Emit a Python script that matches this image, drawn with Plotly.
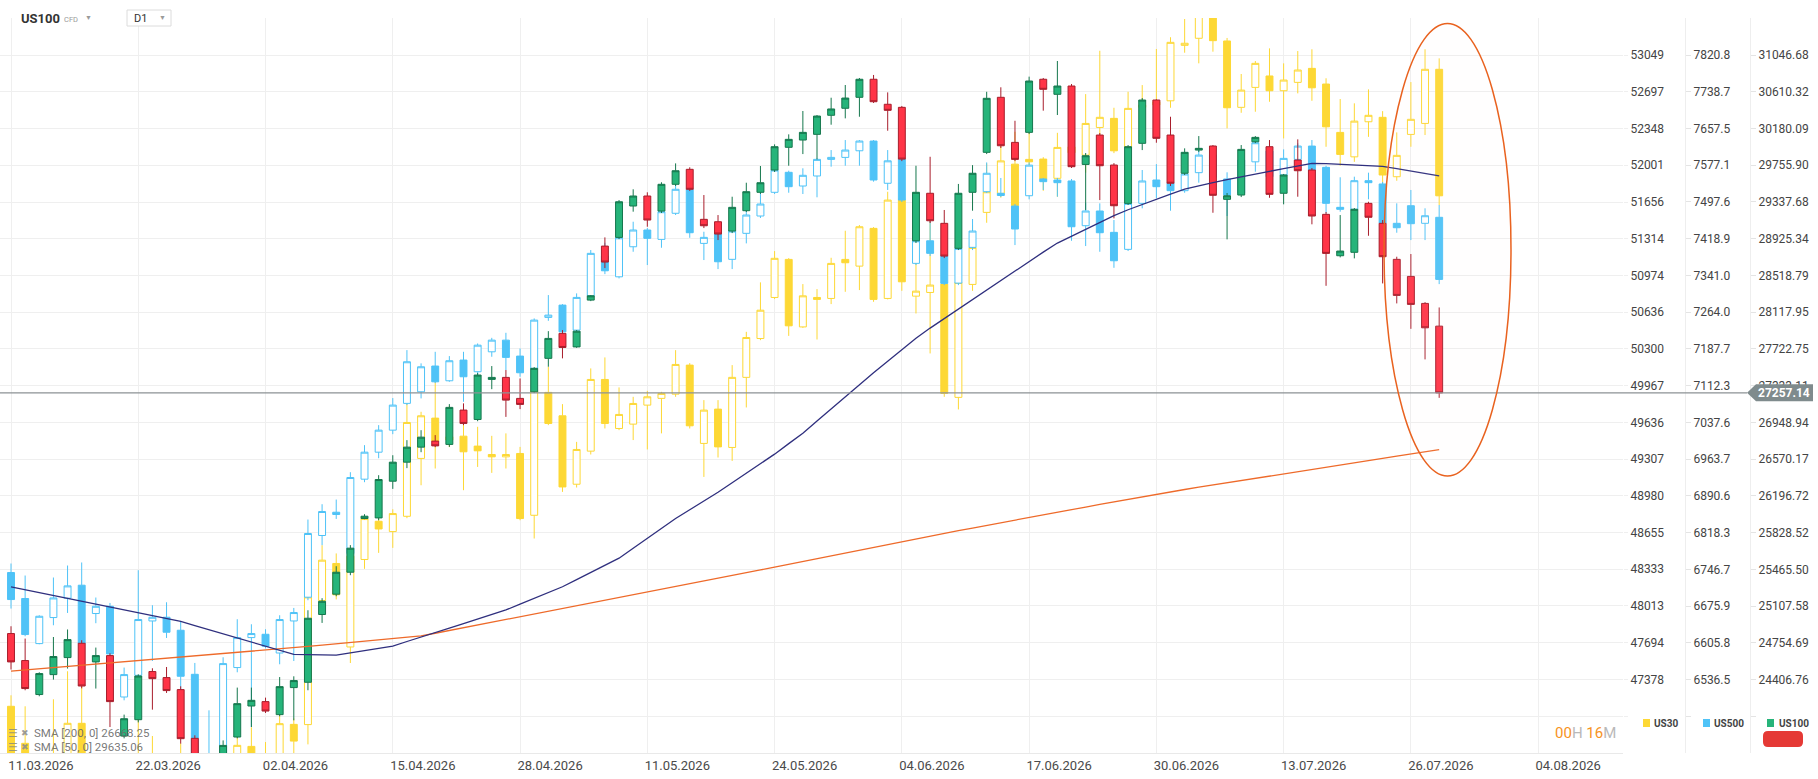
import math
import plotly.graph_objects as go

# ---------------- data ----------------
date_labels = ["11.03.2026", "22.03.2026", "02.04.2026", "15.04.2026", "28.04.2026",
               "11.05.2026", "24.05.2026", "04.06.2026", "17.06.2026", "30.06.2026",
               "13.07.2026", "26.07.2026", "04.08.2026"]
label_every = 9  # candles between date labels

us30_ticks = [53049, 52697, 52348, 52001, 51656, 51314, 50974, 50636, 50300, 49967,
              49636, 49307, 48980, 48655, 48333, 48013, 47694, 47378]
us500_ticks = [7820.8, 7738.7, 7657.5, 7577.1, 7497.6, 7418.9, 7341.0, 7264.0, 7187.7, 7112.3,
               7037.6, 6963.7, 6890.6, 6818.3, 6746.7, 6675.9, 6605.8, 6536.5]
us100_ticks = [31046.68, 30610.32, 30180.09, 29755.90, 29337.68, 28925.34, 28518.79, 28117.95,
               27722.75, 27333.11, 26948.94, 26570.17, 26196.72, 25828.52, 25465.50, 25107.58,
               24754.69, 24406.76]

us100_open = [24843, 24586, 24266, 24453, 24614, 24750, 24573, 24633, 23881, 24032,
              24482, 24425, 24312, 23860, 23613, 23568, 23872, 24159, 24200, 24079,
              24331, 24381, 25026, 25223, 25437, 25969, 25975, 26345, 26539, 26693,
              26755, 26721, 27077, 26979, 27399, 27420, 27199, 27268, 27622, 27889,
              27744, 28249, 28843, 28940, 29292, 29405, 29235, 29538, 29709, 29142,
              29115, 29011, 29239, 29447, 29701, 29962, 30046, 30112, 30334, 30416,
              30545, 30758, 30463, 30427, 28902, 29436, 29097, 28818, 29447, 29904,
              30545, 30019, 30135, 30758, 30580, 30678, 29765, 30104, 29758, 29322,
              30008, 30513, 30104, 29664, 29930, 29977, 29367, 29416, 30026, 29969,
              29436, 29815, 29701, 29198, 28736, 28774, 29322, 29097, 28696, 28508,
              28213, 27967]
us100_high = [24913, 24795, 24475, 24810, 24882, 24779, 24709, 24655, 24079, 24456,
              24513, 24525, 24343, 23888, 23704, 23841, 24331, 24331, 24237, 24430,
              24437, 25067, 25184, 25496, 25704, 26012, 26406, 26610, 26765, 26868,
              26817, 27139, 27147, 27466, 27540, 27498, 27409, 27529, 27913, 27924,
              27924, 28304, 28940, 29359, 29481, 29447, 29561, 29777, 29732, 29416,
              29190, 29397, 29556, 29747, 29996, 30112, 30384, 30337, 30540, 30690,
              30773, 30809, 30603, 30443, 29750, 29853, 29247, 29542, 29757, 30610,
              30663, 30270, 30789, 30773, 30975, 30702, 29896, 30127, 29780, 29988,
              30536, 30521, 30317, 29950, 30092, 29988, 29439, 29988, 30092, 30046,
              29656, 30054, 29724, 29224, 29190, 29269, 29340, 29134, 28725, 28755,
              28227, 28169]
us100_low = [24501, 24306, 24250, 24406, 24510, 24324, 24322, 23964, 23860, 24007,
             24125, 24281, 23811, 23523, 23386, 23495, 23860, 23964, 24094, 24063,
             24026, 24306, 24945, 25203, 25408, 25962, 25952, 26267, 26478, 26641,
             26693, 26696, 26920, 26961, 27296, 27006, 27087, 27255, 27533, 27622,
             27734, 28238, 28600, 28921, 29228, 29059, 29213, 29519, 29462, 29044,
             28910, 28988, 29224, 29428, 29678, 29750, 29884, 29823, 30224, 30298,
             30317, 30478, 30154, 29803, 28877, 29101, 28710, 28799, 29239, 29884,
             29954, 29803, 30115, 30388, 30337, 29724, 29247, 29359, 29153, 29303,
             29930, 30015, 29519, 29644, 29907, 29216, 28918, 29393, 30011, 29385,
             29311, 29397, 29086, 28405, 28718, 28707, 28958, 28431, 28213, 27938,
             27611, 27205]
us100_close = [24573, 24322, 24463, 24624, 24785, 24346, 24633, 24200, 24041, 24440,
               24415, 24303, 23857, 23613, 23568, 23795, 24181, 24212, 24112, 24340,
               24397, 24990, 25154, 25437, 25674, 25992, 26362, 26539, 26693, 26796,
               26706, 27105, 26938, 27445, 27420, 27181, 27136, 27516, 27835, 27738,
               27913, 28296, 28666, 29340, 29405, 29134, 29538, 29693, 29481, 29070,
               28977, 29277, 29454, 29556, 29969, 30054, 30135, 30325, 30408, 30536,
               30758, 30493, 30392, 29826, 29447, 29126, 28732, 29436, 29664, 30533,
               29980, 29823, 30737, 30639, 30678, 29739, 29865, 29750, 29295, 29969,
               30513, 30066, 29550, 29904, 29950, 29413, 29408, 29938, 30077, 29424,
               29644, 29693, 29179, 28762, 28788, 29255, 29165, 28725, 28300, 28202,
               27949, 27257.14]

us500_open = [6740.5, 6690.4, 6604.3, 6653.9, 6691.0, 6716.0, 6661.6, 6675.5, 6503.8, 6544.4,
              6647.4, 6654.5, 6629.7, 6546.3, 6390.3, 6377.5, 6559.0, 6615.7, 6622.0, 6586.5,
              6647.4, 6692.9, 6812.6, 6858.3, 6777.5, 6923.7, 6977.6, 7021.9, 7076.1, 7099.7,
              7152.4, 7122.2, 7164.7, 7140.7, 7181.7, 7205.8, 7172.9, 7147.6, 7253.0, 7278.7,
              7226.6, 7298.2, 7382.0, 7338.1, 7401.7, 7437.4, 7417.4, 7473.2, 7524.9, 7408.9,
              7428.8, 7375.0, 7430.3, 7467.4, 7518.4, 7561.7, 7532.0, 7553.7, 7589.8, 7594.2,
              7608.6, 7629.9, 7537.9, 7590.5, 7366.5, 7414.4, 7382.0, 7324.8, 7400.4, 7519.7,
              7516.2, 7488.8, 7511.0, 7547.2, 7545.0, 7542.9, 7446.6, 7478.1, 7432.4, 7396.2,
              7494.6, 7545.0, 7539.2, 7521.9, 7560.9, 7599.2, 7547.2, 7516.2, 7584.5, 7608.0,
              7555.9, 7589.8, 7618.9, 7572.5, 7486.0, 7481.7, 7543.5, 7536.4, 7451.7, 7489.5,
              7451.7, 7464.6]
us500_high = [6758.0, 6734.7, 6658.3, 6730.9, 6754.1, 6760.0, 6692.3, 6681.9, 6559.0, 6745.0,
              6677.5, 6683.2, 6647.4, 6567.7, 6478.9, 6578.4, 6650.7, 6641.1, 6631.6, 6658.3,
              6672.3, 6843.9, 6874.1, 6883.3, 6937.6, 6991.7, 7032.0, 7086.9, 7185.2, 7157.9,
              7181.7, 7172.9, 7181.7, 7198.9, 7210.6, 7221.0, 7188.5, 7250.9, 7299.7, 7280.8,
              7303.2, 7394.7, 7410.2, 7426.6, 7455.1, 7441.6, 7481.7, 7541.4, 7532.0, 7433.7,
              7438.9, 7456.6, 7487.3, 7523.4, 7571.0, 7565.2, 7570.4, 7592.0, 7610.2, 7632.1,
              7632.1, 7632.1, 7610.2, 7594.8, 7476.6, 7491.0, 7403.2, 7419.6, 7460.9, 7583.2,
              7549.4, 7493.1, 7583.2, 7549.4, 7549.4, 7547.2, 7495.9, 7494.6, 7458.8, 7503.9,
              7566.7, 7579.5, 7593.3, 7564.5, 7610.2, 7601.4, 7561.7, 7595.5, 7629.9, 7614.6,
              7611.7, 7624.9, 7632.1, 7576.0, 7550.9, 7552.2, 7560.9, 7540.7, 7494.6, 7523.4,
              7483.9, 7491.0]
us500_low = [6671.1, 6618.2, 6603.0, 6639.2, 6662.7, 6601.1, 6643.1, 6580.3, 6497.6, 6535.0,
             6571.4, 6615.0, 6516.3, 6359.2, 6340.9, 6368.3, 6550.1, 6447.9, 6595.4, 6565.2,
             6571.4, 6687.1, 6793.7, 6845.1, 6774.2, 6917.7, 6965.5, 7013.8, 7072.6, 7086.2,
             7117.5, 7120.1, 7079.3, 7133.9, 7171.5, 7144.2, 7130.4, 7133.9, 7245.9, 7198.9,
             7223.0, 7292.7, 7343.7, 7334.7, 7391.1, 7362.9, 7399.6, 7469.5, 7420.8, 7373.5,
             7354.4, 7354.4, 7408.9, 7463.1, 7514.7, 7517.5, 7514.7, 7507.6, 7573.9, 7576.0,
             7576.0, 7541.4, 7523.4, 7497.4, 7362.9, 7382.0, 7320.6, 7320.6, 7394.7, 7516.9,
             7508.2, 7405.3, 7503.2, 7523.4, 7508.9, 7414.4, 7403.2, 7391.1, 7357.1, 7392.6,
             7483.9, 7505.4, 7478.7, 7517.5, 7539.2, 7545.0, 7467.4, 7512.6, 7563.0, 7547.2,
             7532.7, 7573.9, 7548.7, 7473.2, 7476.6, 7473.2, 7503.2, 7448.1, 7431.6, 7415.9,
             7415.9, 7322.7]
us500_close = [6688.4, 6621.5, 6656.4, 6691.5, 6714.7, 6604.3, 6675.5, 6584.7, 6545.8, 6650.1,
               6654.5, 6625.9, 6542.6, 6377.5, 6359.2, 6566.5, 6615.7, 6623.4, 6599.2, 6650.1,
               6663.5, 6816.5, 6859.7, 6853.8, 6927.0, 6977.6, 7021.9, 7072.6, 7161.2, 7150.9,
               7120.1, 7163.3, 7130.4, 7195.4, 7205.8, 7170.2, 7138.6, 7247.4, 7257.8, 7223.0,
               7294.8, 7387.7, 7350.8, 7420.8, 7437.4, 7419.6, 7476.6, 7524.9, 7431.6, 7421.7,
               7369.9, 7435.2, 7469.5, 7493.1, 7566.7, 7530.5, 7555.2, 7589.8, 7594.2, 7610.2,
               7629.9, 7545.0, 7586.7, 7501.7, 7414.4, 7387.7, 7324.2, 7398.3, 7435.2, 7559.6,
               7511.5, 7439.5, 7577.3, 7541.4, 7539.2, 7444.4, 7478.1, 7431.6, 7372.0, 7494.6,
               7542.9, 7530.5, 7521.9, 7558.0, 7599.2, 7550.9, 7512.6, 7588.3, 7626.2, 7552.2,
               7592.0, 7618.9, 7566.7, 7494.6, 7481.7, 7543.5, 7539.2, 7451.7, 7442.3, 7450.9,
               7468.0, 7332.6]

us30_open = [47149, 46834, 46564, 46648, 46606, 47004, 46564, 46521, 46538, 46648,
             46623, 46564, 46623, 46538, 46479, 46437, 46623, 46808, 46648, 46623,
             46995, 46993, 48061, 48384, 47658, 48419, 48755, 48664, 48799, 49313,
             49674, 49506, 49512, 49423, 49348, 49327, 49357, 48808, 49906, 49695,
             49083, 49378, 50023, 49581, 49620, 49791, 49852, 49890, 50153, 49447,
             49755, 49411, 50042, 50395, 50771, 51122, 50501, 50771, 50762, 51122,
             51060, 51410, 50762, 51674, 50783, 50817, 50894, 49861, 50891, 51559,
             51737, 52011, 52056, 52059, 51878, 52175, 52096, 52358, 52444, 52175,
             52549, 52571, 52611, 53142, 53210, 53484, 53184, 52549, 52739, 52848,
             52707, 52787, 52921, 52771, 52311, 52080, 52412, 52454, 51893, 52292,
             52396, 52912]
us30_high = [47243, 47149, 46690, 47209, 47449, 47443, 46648, 46648, 46673, 47200,
             46896, 46690, 46834, 46648, 46606, 46606, 47038, 46970, 46845, 47174,
             47046, 48253, 48544, 48472, 48457, 48793, 48897, 48861, 49911, 49731,
             50032, 49782, 49701, 49596, 49515, 49537, 49416, 49944, 50138, 49800,
             49461, 50123, 50223, 49951, 49866, 49920, 49911, 50289, 50171, 49836,
             49836, 50153, 50456, 50910, 51199, 51134, 50894, 50848, 51137, 51388,
             51441, 51422, 51752, 51683, 51326, 51627, 50912, 51017, 51441, 52018,
             52229, 52317, 52371, 52077, 52307, 52276, 52675, 53090, 52545, 52697,
             52761, 53107, 53220, 53396, 53630, 53630, 53213, 52867, 52991, 53113,
             52969, 53087, 53104, 52826, 52628, 52587, 52720, 52513, 52311, 52790,
             53104, 53017]
us30_low = [46564, 46521, 46437, 46479, 46521, 46521, 46395, 46395, 46420, 46521,
            46479, 46437, 46479, 46395, 46353, 46353, 46564, 46564, 46538, 46564,
            46690, 46825, 47933, 48070, 47520, 48337, 48477, 48521, 48782, 49074,
            49223, 49414, 49030, 49237, 49184, 49223, 48764, 48603, 49611, 49015,
            49054, 49348, 49581, 49566, 49477, 49393, 49537, 49866, 49581, 49148,
            49321, 49291, 49770, 50380, 50756, 50419, 50492, 50386, 50710, 50823,
            50839, 50731, 50753, 50832, 50624, 50259, 49866, 49752, 50832, 51462,
            51696, 51410, 51975, 51761, 51705, 52002, 51931, 52213, 52115, 52163,
            52380, 52380, 52545, 53071, 52969, 53081, 52349, 52497, 52507, 52602,
            52254, 52682, 52611, 52175, 51996, 52033, 52269, 51737, 51855, 52175,
            52286, 51627]
us30_close = [46648, 46606, 46504, 46564, 47004, 46606, 46479, 46454, 46479, 46589,
              46564, 46521, 46555, 46454, 46420, 46521, 46817, 46623, 46606, 47001,
              46853, 48092, 48413, 48110, 48448, 48779, 48687, 48823, 49635, 49695,
              49468, 49477, 49372, 49381, 49327, 49348, 48779, 49920, 49626, 49059,
              49393, 50023, 49626, 49707, 49806, 49866, 49897, 50159, 49605, 49746,
              49416, 50042, 50404, 50654, 51132, 50511, 50786, 50753, 51085, 51091,
              51425, 50753, 51674, 50915, 50829, 50885, 49897, 50910, 51233, 51752,
              52042, 51621, 52033, 51871, 52169, 52118, 52396, 52454, 52137, 52539,
              52571, 52602, 53171, 53162, 53503, 53187, 52545, 52713, 52969, 52707,
              52809, 52905, 52735, 52364, 52103, 52418, 52473, 51909, 52094, 52435,
              52912, 51714]

sma200 = [24485, 24496, 24507, 24518, 24528, 24539, 24550, 24561, 24572, 24583,
          24593, 24604, 24615, 24626, 24637, 24648, 24659, 24671, 24683, 24696,
          24708, 24720, 24733, 24745, 24757, 24770, 24782, 24794, 24806, 24820,
          24846, 24872, 24899, 24925, 24951, 24978, 25004, 25030, 25057, 25083,
          25109, 25136, 25162, 25188, 25215, 25241, 25267, 25294, 25320, 25347,
          25375, 25403, 25431, 25459, 25487, 25515, 25543, 25571, 25600, 25628,
          25656, 25684, 25712, 25740, 25768, 25796, 25822, 25848, 25874, 25901,
          25927, 25953, 25979, 26005, 26032, 26058, 26084, 26110, 26136, 26163,
          26189, 26215, 26239, 26261, 26284, 26307, 26329, 26352, 26374, 26397,
          26420, 26442, 26465, 26487, 26510, 26533, 26555, 26578, 26600, 26623,
          26646, 26668.25]
sma50 = [25293, 25265, 25237, 25209, 25181, 25153, 25124, 25096, 25069, 25042,
         25014, 24987, 24959, 24918, 24878, 24837, 24798, 24759, 24720, 24681,
         24645, 24642, 24639, 24638, 24659, 24680, 24701, 24722, 24767, 24812,
         24854, 24896, 24938, 24980, 25023, 25070, 25126, 25181, 25237, 25295,
         25364, 25434, 25503, 25575, 25674, 25773, 25872, 25969, 26057, 26144,
         26233, 26330, 26427, 26524, 26621, 26729, 26837, 26963, 27089, 27220,
         27347, 27470, 27592, 27714, 27837, 27946, 28049, 28152, 28255, 28358,
         28464, 28570, 28676, 28776, 28877, 28953, 29030, 29106, 29183, 29250,
         29311, 29370, 29427, 29484, 29523, 29557, 29590, 29624, 29656, 29686,
         29717, 29747, 29778, 29774, 29767, 29760, 29753, 29742, 29718, 29693,
         29666, 29635.06]

# ---------------- figure ----------------
W, H = 1818, 779
PLOT_TOP, PLOT_BOTTOM = 18, 753
PLOT_RIGHT = 1623


def px(x):
    return x / W


def py(y):
    return (PLOT_BOTTOM - y) / (PLOT_BOTTOM - PLOT_TOP)


def log_range(ticks, above=1.0076, below=2.0):
    a, b = math.log10(ticks[0]), math.log10(ticks[-1])
    step = (a - b) / (len(ticks) - 1)
    return [b - below * step, a + above * step], 10 ** (b - step)


r30, extra30 = log_range(us30_ticks)
r500, extra500 = log_range(us500_ticks)
r100, extra100 = log_range(us100_ticks)

idx = list(range(len(us100_close)))
FONT = "Roboto"

YEL = "#FDD835"
BLU = "#4FC3F7"


def candles(o, h, l, c, yaxis, inc_line, inc_fill, dec_line, dec_fill, name):
    return go.Candlestick(
        x=idx, open=o, high=h, low=l, close=c, yaxis=yaxis, name=name,
        increasing=dict(line=dict(color=inc_line, width=1), fillcolor=inc_fill),
        decreasing=dict(line=dict(color=dec_line, width=1), fillcolor=dec_fill),
        whiskerwidth=0, hoverinfo="skip", showlegend=False)


fig = go.Figure()
fig.add_trace(candles(us100_open, us100_high, us100_low, us100_close, "y3",
                      "#15774D", "#26B47A", "#A81E2C", "#FF3447", "US100"))
fig.add_trace(candles(us500_open, us500_high, us500_low, us500_close, "y2",
                      BLU, "#FFFFFF", BLU, BLU, "US500"))
fig.add_trace(candles(us30_open, us30_high, us30_low, us30_close, "y",
                      YEL, "#FFFFFF", YEL, YEL, "US30"))
fig.add_trace(go.Scatter(x=idx, y=sma200, yaxis="y3", mode="lines",
                         line=dict(color="#EE6A2A", width=1.3), hoverinfo="skip", showlegend=False))
fig.add_trace(go.Scatter(x=idx, y=sma50, yaxis="y3", mode="lines",
                         line=dict(color="#2F2F7E", width=1.3), hoverinfo="skip", showlegend=False))

tick_font = dict(family=FONT, size=12, color="#444444")
GRID = "#efefef"

fig.update_layout(
    width=W, height=H, autosize=False,
    margin=dict(l=0, r=0, t=PLOT_TOP, b=H - PLOT_BOTTOM, pad=0),
    paper_bgcolor="white", plot_bgcolor="white",
    template="none",
    showlegend=False,
    font=dict(family=FONT, color="#444444"),
    xaxis=dict(
        domain=[0, px(PLOT_RIGHT)], range=[-0.778, 114.0],
        tickvals=[i * label_every for i in range(len(date_labels))], ticktext=date_labels,
        ticklabelshift=30, ticks="", showgrid=True, gridcolor=GRID, gridwidth=1,
        zeroline=False, showline=True, linecolor="#e9e9e9", linewidth=1,
        tickfont=dict(family=FONT, size=13, color="#4a4a4a"),
        rangeslider=dict(visible=False), fixedrange=True),
    yaxis=dict(
        type="log", range=r30, side="right", anchor="x",
        tickvals=us30_ticks + [extra30], ticktext=[f"{v:d}" for v in us30_ticks] + [""],
        showgrid=True, gridcolor=GRID, gridwidth=1, zeroline=False, showline=False,
        ticks="outside", ticklen=4, tickcolor=GRID, tickfont=tick_font, fixedrange=True),
    yaxis2=dict(
        type="log", range=r500, overlaying="y", side="right", anchor="free",
        position=px(1685),
        tickvals=us500_ticks + [extra500], ticktext=[f"{v:.1f}" for v in us500_ticks] + [""],
        showgrid=False, zeroline=False, showline=True, linecolor="#eeeeee",
        ticks="outside", ticklen=5, tickcolor="#e4e4e4", tickfont=tick_font, fixedrange=True),
    yaxis3=dict(
        type="log", range=r100, overlaying="y", side="right", anchor="free",
        position=px(1750),
        tickvals=us100_ticks + [extra100], ticktext=[f"{v:.2f}" for v in us100_ticks] + [""],
        showgrid=False, zeroline=False, showline=True, linecolor="#eeeeee",
        ticks="outside", ticklen=5, tickcolor="#e4e4e4", tickfont=tick_font, fixedrange=True),
)

last = us100_close[-1]
shapes = [
    # current price line
    dict(type="line", xref="paper", yref="y3", x0=0, x1=px(1747), y0=last, y1=last,
         line=dict(color="#8c9295", width=1.2), layer="above"),
    # price badge
    dict(type="path", xref="paper", yref="y3", xsizemode="pixel", ysizemode="pixel",
         xanchor=px(1747), yanchor=last,
         path="M 0 0 L 9 8.5 L 66 8.5 L 66 -8.5 L 9 -8.5 Z",
         fillcolor="#7f8b8d", line=dict(width=0), layer="above"),
    # highlight ellipse
    dict(type="circle", xref="paper", yref="paper",
         x0=px(1384), x1=px(1511), y0=py(476), y1=py(23.5),
         line=dict(color="#E9621F", width=1.5), fillcolor="rgba(255,240,230,0.05)",
         layer="above"),
    # legend squares
    dict(type="rect", xref="paper", yref="paper", x0=px(1643), x1=px(1650), y0=py(727), y1=py(719),
         fillcolor=YEL, line=dict(width=0)),
    dict(type="rect", xref="paper", yref="paper", x0=px(1703), x1=px(1710), y0=py(727), y1=py(719),
         fillcolor=BLU, line=dict(width=0)),
    dict(type="rect", xref="paper", yref="paper", x0=px(1767), x1=px(1774), y0=py(727), y1=py(719),
         fillcolor="#26B47A", line=dict(width=0)),
    # red pill
    dict(type="path", xref="paper", yref="paper", xsizemode="pixel", ysizemode="pixel",
         xanchor=px(1783), yanchor=py(739),
         path="M -15 -8 L 15 -8 Q 20 -8 20 -3 L 20 3 Q 20 8 15 8 L -15 8 Q -20 8 -20 3 "
              "L -20 -3 Q -20 -8 -15 -8 Z",
         fillcolor="#E53935", line=dict(width=0), layer="above"),
    # D1 box
    dict(type="rect", xref="paper", yref="paper", x0=px(127), x1=px(171), y0=py(26), y1=py(10),
         fillcolor="white", line=dict(color="#dcdcdc", width=1), layer="above"),
]
fig.update_layout(shapes=shapes)


def ann(x, y, text, size, color, xanchor="left", yref="paper", yv=None, **kw):
    return dict(x=px(x), y=py(y) if yv is None else yv, xref="paper", yref=yref,
                text=text, showarrow=False, xanchor=xanchor, yanchor="middle",
                font=dict(family=kw.pop("family", FONT), size=size, color=color), **kw)


annotations = [
    ann(19, 18.5, "<b>US100</b>", 13, "#333333"),
    ann(62, 19.5, "CFD", 7.5, "#9a9a9a"),
    ann(83, 17.5, "▼", 7, "#9a9a9a"),
    ann(132, 18, "D1", 11, "#333333"),
    ann(157, 18, "▼", 7, "#9a9a9a"),
    ann(1784, 0, f"<b>{last:.2f}</b>", 12, "white", xanchor="center", yref="y3",
        yv=math.log10(last)),
    ann(1652, 723, "<b>US30</b>", 10, "#444444"),
    ann(1712, 723, "<b>US500</b>", 10, "#444444"),
    ann(1777, 723, "<b>US100</b>", 10, "#444444"),
    ann(1618, 733,
        "<span style='color:#F7931E'>00</span><span style='color:#b9b9b9'>H </span>"
        "<span style='color:#F7931E'>16</span><span style='color:#b9b9b9'>M</span>",
        15, "#b9b9b9", xanchor="right"),
    ann(32, 733, f"SMA [200, 0] {sma200[-1]:.2f}", 11.5, "rgba(105,105,105,0.9)"),
    ann(32, 747, f"SMA [50, 0] {sma50[-1]:.2f}", 11.5, "rgba(105,105,105,0.9)"),
    ann(6, 733, "☰", 11, "rgba(140,140,120,0.85)", family="DejaVu Sans"),
    ann(19, 733, "✖", 9, "rgba(140,140,140,0.85)", family="DejaVu Sans"),
    ann(6, 747, "☰", 11, "rgba(140,140,120,0.85)", family="DejaVu Sans"),
    ann(19, 747, "✖", 9, "rgba(140,140,140,0.85)", family="DejaVu Sans"),
]
fig.update_layout(annotations=annotations)

fig.write_html("out.html", config={"displayModeBar": False})
